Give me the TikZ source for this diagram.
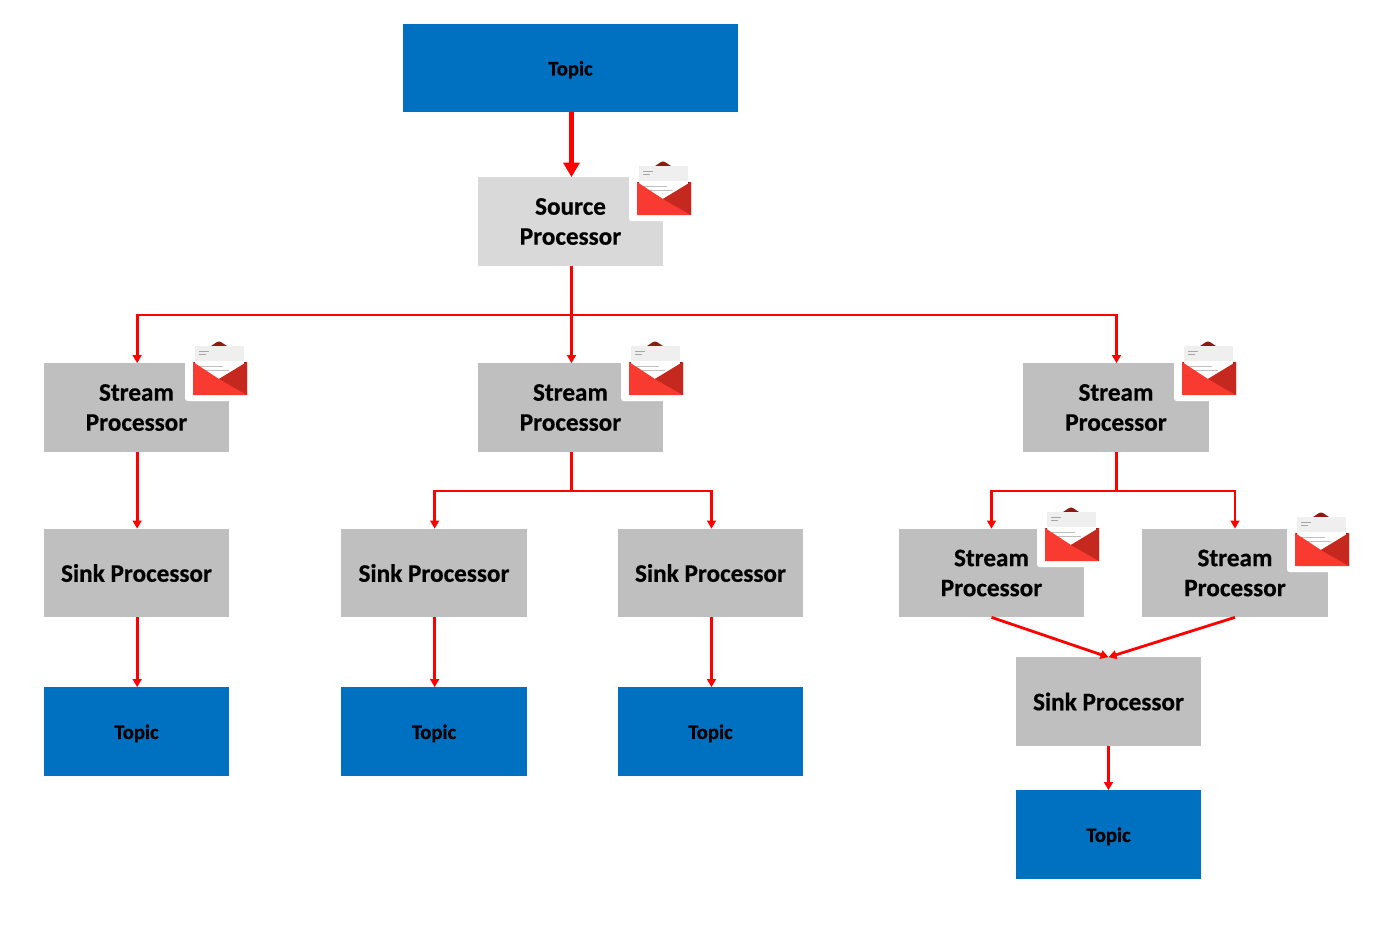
\documentclass[tikz,border=0pt]{standalone}
\usepackage{fontspec}
\setmainfont{Carlito}[BoldFeatures={FakeBold=0.5}]
\usetikzlibrary{arrows.meta}
\definecolor{topicblue}{HTML}{0070C0}
\definecolor{srcgrey}{HTML}{D9D9D9}
\definecolor{procgrey}{HTML}{BFBFBF}
\definecolor{envred}{HTML}{F93A30}
\definecolor{envdark}{HTML}{C5281E}
\definecolor{envtip}{HTML}{8E1A14}
\definecolor{lettergrey}{HTML}{EFEFEF}
\newcommand{\lwr}[1]{\raisebox{-0.75pt}{#1}}
\newcommand{\lwrt}[1]{\rule{0pt}{13.6pt}#1}
\tikzset{
  x=0.75pt,y=-0.75pt,
  boxbase/.style={inner sep=0pt,outer sep=0pt,minimum width=138.75pt,minimum height=66.5pt,align=center,text=black},
  topicbox/.style={boxbase,fill=topicblue,font=\bfseries\fontsize{15.5}{18}\selectfont},
  procbox/.style={boxbase,fill=procgrey,font=\bfseries\fontsize{18.9}{22.5}\selectfont},
  srcbox/.style={procbox,fill=srcgrey},
  link/.style={draw=red,line width=2.1pt,-{Triangle[length=6pt,width=6.5pt]}},
  biglink/.style={draw=red,line width=3.8pt,-{Triangle[length=11pt,width=12pt]}},
  bus/.style={draw=red,line width=2.1pt},
  envelope/.pic={
    \fill[white,rounded corners=2pt] (-8,6) rectangle (56,-50);
    \fill[envtip] (18,-49) .. controls (21,-50) and (23,-53.5) .. (26,-53.5) .. controls (29,-53.5) and (31,-50) .. (34,-49) -- cycle;
    \fill[lettergrey] (2,-49) rectangle (51,-34);
    \fill[white] (2,-34) rectangle (51,-14);
    \fill[black!35] (6,-44) rectangle (16,-43.4);
    \fill[black!35] (6,-41.5) rectangle (13,-41);
    \fill[black!25] (6,-29) rectangle (30,-28.5);
    \fill[black!25] (6,-25) rectangle (36,-24.5);
    \fill[envtip] (0,-33) -- (2,-33) -- (2,-30) -- cycle;
    \fill[envtip] (54,-33) -- (51,-33) -- (51,-30) -- cycle;
    \fill[envred] (0,-33) -- (26,-16) -- (54,-33) -- (54,0) -- (0,0) -- cycle;
    \fill[envdark] (26,-16) -- (54,-33) -- (54,0) -- cycle;
  }
}
\begin{document}
\begin{tikzpicture}
\useasboundingbox (0,0) rectangle (1388,926);
% boxes
\node[topicbox,minimum width=251.25pt,minimum height=66pt] (t0) at (570.5,68) {\lwrt{Topic}};
\node[srcbox] (src) at (570.5,221.5) {\lwr{Source}\\\lwr{Processor}};
\node[procbox] (s1) at (136.5,407.5) {\lwr{Stream}\\\lwr{Processor}};
\node[procbox] (s2) at (570.5,407.5) {\lwr{Stream}\\\lwr{Processor}};
\node[procbox,minimum width=139.5pt] (s3) at (1116,407.5) {\lwr{Stream}\\\lwr{Processor}};
\node[procbox] (k1) at (136.5,573) {\lwr{Sink Processor}};
\node[procbox,minimum width=139.5pt] (k2) at (434,573) {\lwr{Sink Processor}};
\node[procbox] (k3) at (710.5,573) {\lwr{Sink Processor}};
\node[procbox] (s4) at (991.5,573) {\lwr{Stream}\\\lwr{Processor}};
\node[procbox,minimum width=139.5pt] (s5) at (1235,573) {\lwr{Stream}\\\lwr{Processor}};
\node[procbox] (k4) at (1108.5,701.5) {\lwr{Sink Processor}};
\node[topicbox] (t1) at (136.5,731.5) {\lwrt{Topic}};
\node[topicbox,minimum width=139.5pt] (t2) at (434,731.5) {\lwrt{Topic}};
\node[topicbox] (t3) at (710.5,731.5) {\lwrt{Topic}};
\node[topicbox] (t4) at (1108.5,834.5) {\lwrt{Topic}};
% envelopes
\pic at (637,215) {envelope};
\pic at (193,395) {envelope};
\pic at (629,395) {envelope};
\pic at (1182,395) {envelope};
\pic at (1045,561) {envelope};
\pic at (1295,566) {envelope};
% connectors
\coordinate (busa) at (571.5,315);
\coordinate (busb) at (571.5,491);
\coordinate (busc) at (1116.5,491);
\path[biglink] (t0.south -| busa) -- (src.north -| busa);
\path[bus] (src.south -| busa) -- (busa);
\path[link] (busa) -- (s2.north -| busa);
\path[link] (busa) -| ([xshift=0.5pt]s1.north);
\path[link] (busa) -| ([xshift=0.375pt]s3.north);
\path[link] ([xshift=0.5pt]s1.south) -- ([xshift=0.5pt]k1.north);
\path[bus] (s2.south -| busb) -- (busb);
\path[link] (busb) -| ([xshift=0.5pt]k2.north);
\path[link] (busb) -| ([xshift=0.75pt]k3.north);
\path[bus] ([xshift=0.375pt]s3.south) -- (busc);
\path[link] (busc) -| (s4.north);
\path[link] (busc) -| (s5.north);
\path[link] (s4.south) -- (k4.north);
\path[link] (s5.south) -- (k4.north);
\path[link] ([xshift=0.5pt]k1.south) -- ([xshift=0.5pt]t1.north);
\path[link] ([xshift=0.5pt]k2.south) -- ([xshift=0.5pt]t2.north);
\path[link] ([xshift=0.75pt]k3.south) -- ([xshift=0.75pt]t3.north);
\path[link] (k4.south) -- (t4.north);
\end{tikzpicture}
\end{document}
